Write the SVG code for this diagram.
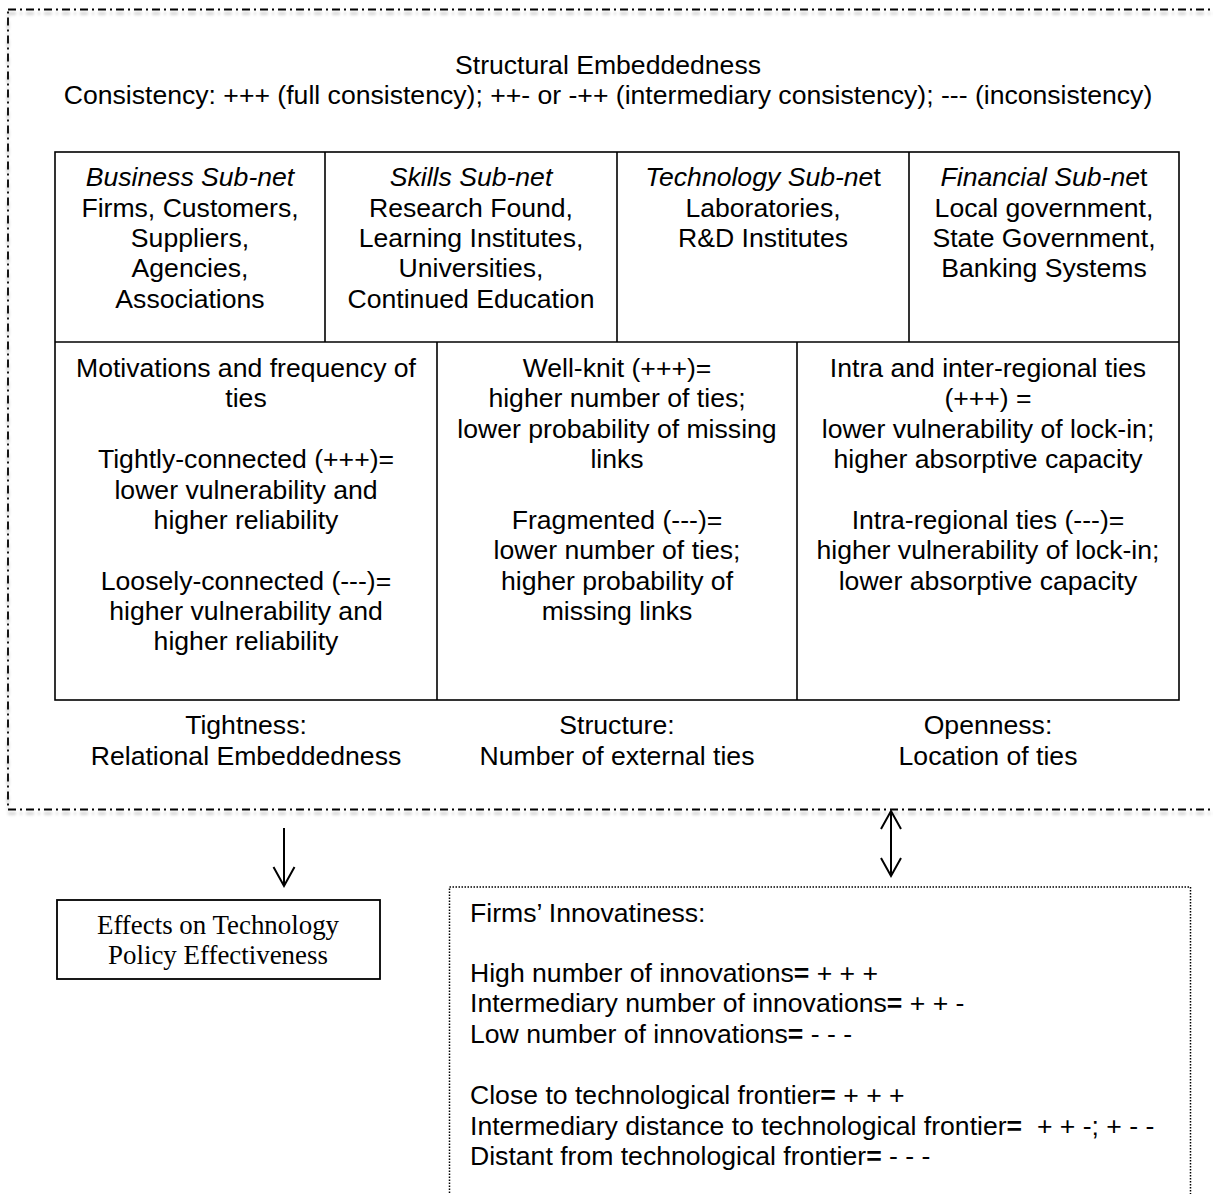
<svg xmlns="http://www.w3.org/2000/svg" width="1213" height="1194" viewBox="0 0 1213 1194">
<style>
.t{font-family:"Liberation Sans",Arial,sans-serif;font-size:26.6px;fill:#000;}
.c{text-anchor:middle;}
.s{font-family:"Liberation Serif","Times New Roman",serif;font-size:26.9px;fill:#000;text-anchor:middle;}
.cell{fill:none;stroke:#000;stroke-width:1.6;}
.b{font-weight:bold;}
.conn{fill:none;stroke:#000;stroke-width:2;}
</style>
<defs>
<filter id="sh" x="-5%" y="-5%" width="110%" height="110%">
<feGaussianBlur in="SourceAlpha" stdDeviation="1.5" result="bl"/>
<feOffset in="bl" dy="4" result="of"/>
<feComponentTransfer in="of" result="of2"><feFuncA type="linear" slope="0.25"/></feComponentTransfer>
<feMerge><feMergeNode in="of2"/><feMergeNode in="SourceGraphic"/></feMerge>
</filter>
</defs>
<rect width="1213" height="1194" fill="#fff"/>

<g id="structural-embeddedness">
<rect x="8" y="9.5" width="1215" height="800" fill="none" stroke="#000" stroke-width="1.8" stroke-dasharray="8 4 2 4" filter="url(#sh)"/>
<text class="t c" x="608" y="74">Structural Embeddedness</text>
<text class="t c" x="608" y="104">Consistency: +++ (full consistency); ++- or -++ (intermediary consistency); --- (inconsistency)</text>
</g>

<g id="table">
<rect class="cell" x="55" y="152" width="1124" height="548"/>
<line class="cell" x1="55" y1="342" x2="1179" y2="342"/>
<line class="cell" x1="325" y1="152" x2="325" y2="342"/>
<line class="cell" x1="617" y1="152" x2="617" y2="342"/>
<line class="cell" x1="909" y1="152" x2="909" y2="342"/>
<line class="cell" x1="437" y1="342" x2="437" y2="700"/>
<line class="cell" x1="797" y1="342" x2="797" y2="700"/>
</g>

<g id="business-subnet">
<text class="t c" x="190" y="186"><tspan font-style="italic">Business Sub-net</tspan></text>
<text class="t c" x="190" y="217">Firms, Customers,</text>
<text class="t c" x="190" y="247">Suppliers,</text>
<text class="t c" x="190" y="277">Agencies,</text>
<text class="t c" x="190" y="308">Associations</text>
</g>
<g id="skills-subnet">
<text class="t c" x="471" y="186"><tspan font-style="italic">Skills Sub-net</tspan></text>
<text class="t c" x="471" y="217">Research Found,</text>
<text class="t c" x="471" y="247">Learning Institutes,</text>
<text class="t c" x="471" y="277">Universities,</text>
<text class="t c" x="471" y="308">Continued Education</text>
</g>
<g id="technology-subnet">
<text class="t c" x="763" y="186"><tspan font-style="italic">Technology Sub-ne</tspan>t</text>
<text class="t c" x="763" y="217">Laboratories,</text>
<text class="t c" x="763" y="247">R&amp;D Institutes</text>
</g>
<g id="financial-subnet">
<text class="t c" x="1044" y="186"><tspan font-style="italic">Financial Sub-ne</tspan>t</text>
<text class="t c" x="1044" y="217">Local government,</text>
<text class="t c" x="1044" y="247">State Government,</text>
<text class="t c" x="1044" y="277">Banking Systems</text>
</g>

<g id="tightness">
<text class="t c" x="246" y="377">Motivations and frequency of</text>
<text class="t c" x="246" y="407">ties</text>
<text class="t c" x="246" y="468">Tightly-connected (+++)=</text>
<text class="t c" x="246" y="499">lower vulnerability and</text>
<text class="t c" x="246" y="529">higher reliability</text>
<text class="t c" x="246" y="590">Loosely-connected (---)=</text>
<text class="t c" x="246" y="620">higher vulnerability and</text>
<text class="t c" x="246" y="650">higher reliability</text>
<text class="t c" x="246" y="734">Tightness:</text>
<text class="t c" x="246" y="765">Relational Embeddedness</text>
</g>
<g id="structure">
<text class="t c" x="617" y="377">Well-knit (+++)=</text>
<text class="t c" x="617" y="407">higher number of ties;</text>
<text class="t c" x="617" y="438">lower probability of missing</text>
<text class="t c" x="617" y="468">links</text>
<text class="t c" x="617" y="529">Fragmented (---)=</text>
<text class="t c" x="617" y="559">lower number of ties;</text>
<text class="t c" x="617" y="590">higher probability of</text>
<text class="t c" x="617" y="620">missing links</text>
<text class="t c" x="617" y="734">Structure:</text>
<text class="t c" x="617" y="765">Number of external ties</text>
</g>
<g id="openness">
<text class="t c" x="988" y="377">Intra and inter-regional ties</text>
<text class="t c" x="988" y="407">(+++) =</text>
<text class="t c" x="988" y="438">lower vulnerability of lock-in;</text>
<text class="t c" x="988" y="468">higher absorptive capacity</text>
<text class="t c" x="988" y="529">Intra-regional ties (---)=</text>
<text class="t c" x="988" y="559">higher vulnerability of lock-in;</text>
<text class="t c" x="988" y="590">lower absorptive capacity</text>
<text class="t c" x="988" y="734">Openness:</text>
<text class="t c" x="988" y="765">Location of ties</text>
</g>

<g id="policy-effectiveness">
<rect x="57" y="900" width="323" height="79" fill="none" stroke="#000" stroke-width="1.8"/>
<text class="s" x="218" y="934">Effects on Technology</text>
<text class="s" x="218" y="964">Policy Effectiveness</text>
</g>

<g id="firms-innovativeness">
<rect x="449.5" y="887" width="741" height="330" fill="none" stroke="#000" stroke-width="1.5" stroke-dasharray="1.5 1.5"/>
<text class="t" x="470" y="922">Firms’ Innovatiness:</text>
<text class="t" x="470" y="982">High number of innovations<tspan class="b">=</tspan> + + +</text>
<text class="t" x="470" y="1012">Intermediary number of innovations<tspan class="b">=</tspan> + + -</text>
<text class="t" x="470" y="1043">Low number of innovations<tspan class="b">=</tspan> - - -</text>
<text class="t" x="470" y="1104">Close to technological frontier<tspan class="b">=</tspan> + + +</text>
<text class="t" x="470" y="1135" style="white-space:pre">Intermediary distance to technological frontier<tspan class="b">=</tspan>  + + -; + - -</text>
<text class="t" x="470" y="1165">Distant from technological frontier<tspan class="b">=</tspan> - - -</text>
</g>

<g id="connectors">
<line class="conn" x1="284" y1="828" x2="284" y2="885"/>
<polyline class="conn" points="273.5,867 284,886 294.5,867"/>
<line class="conn" x1="891" y1="811" x2="891" y2="876"/>
<polyline class="conn" points="881,829 891,811 901,829"/>
<polyline class="conn" points="881,858 891,876 901,858"/>
</g>
</svg>
